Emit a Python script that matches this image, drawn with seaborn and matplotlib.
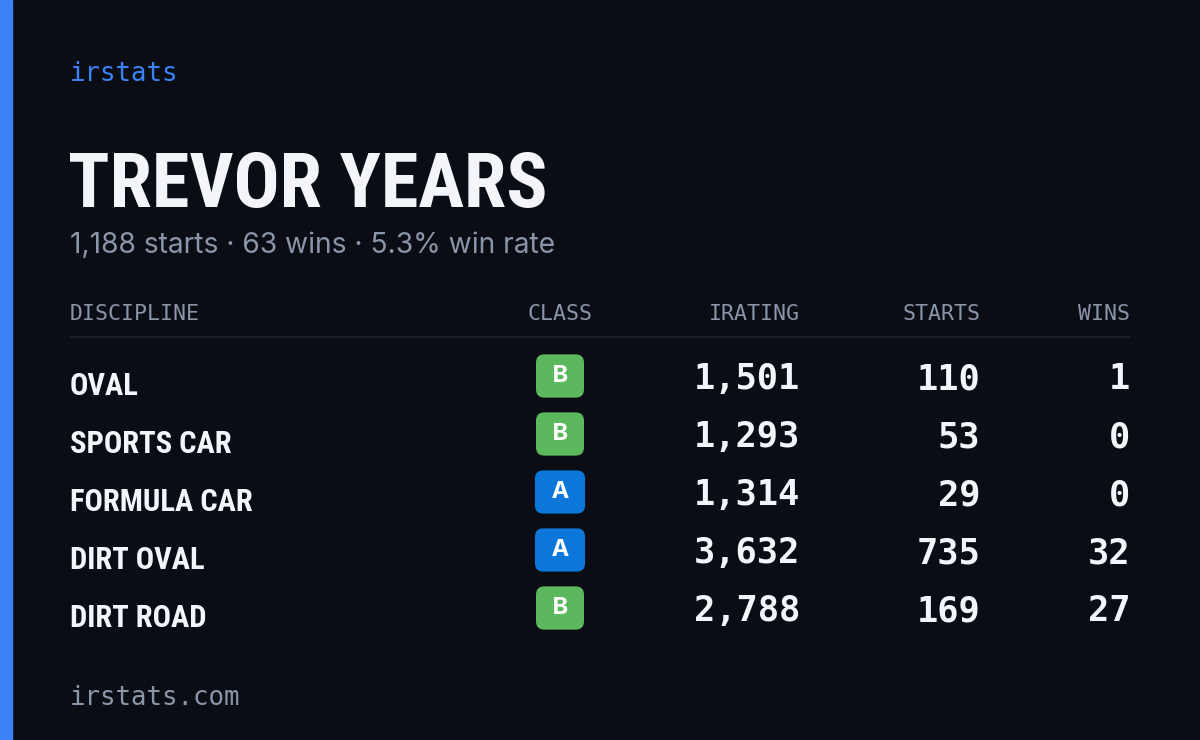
import matplotlib
matplotlib.use("Agg")
import matplotlib.pyplot as plt
import seaborn as sns
import pandas as pd
from matplotlib import font_manager as fm

disciplines = ["OVAL", "SPORTS CAR", "FORMULA CAR", "DIRT OVAL", "DIRT ROAD"]
classes = ["B", "B", "A", "A", "B"]
iratings = [1501, 1293, 1314, 3632, 2788]
starts = [110, 53, 29, 735, 169]
wins = [1, 0, 0, 32, 27]
headers = ["DISCIPLINE", "CLASS", "IRATING", "STARTS", "WINS"]
name = "TREVOR YEARS"
subtitle = "1,188 starts · 63 wins · 5.3% win rate"

sns.set_theme(style="white")
BG = "#0a0d14"
fig = plt.figure(figsize=(12, 7.4), dpi=100, facecolor=BG)
ax = fig.add_axes([0, 0, 1, 1])
ax.set_facecolor(BG)
ax.set_xlim(0, 1200); ax.set_ylim(740, 0); ax.axis("off")

names = {f.name for f in fm.fontManager.ttflist}
cond_cands = ["Roboto Condensed", "DejaVu Sans Condensed", "Liberation Sans Narrow",
              "Open Sans Condensed", "Noto Sans Condensed"]
cond_font = next((c for c in cond_cands if c in names), "DejaVu Sans")
narrow = cond_font != "DejaVu Sans"

ax.axvspan(0, 12, color="#3b82f6")
mono = "DejaVu Sans Mono"
ax.text(70, 74, "irstats", color="#3b82f6", fontsize=18.5, family=mono, va="center")
ax.text(68, 186, name, color="#f3f5fa", fontsize=55 if narrow else 44, family=cond_font,
        fontstretch="condensed", weight="bold", va="center")
ax.text(70, 246, subtitle, color="#8b95a8", fontsize=20.3, family="Inter", va="center")

hx = [70, 560, 800, 980, 1130]
ha = ["left", "center", "right", "right", "right"]
for h, x, a in zip(headers, hx, ha):
    ax.text(x, 314, h, color="#8b95a8", fontsize=15.5, family=mono, ha=a, va="center")
ax.plot([70, 1130], [337, 337], color="#1d2230", lw=1.2)

df = pd.DataFrame({"d": disciplines, "c": classes, "ir": iratings, "s": starts, "w": wins})
df["y"] = [380 + 58 * i for i in range(len(df))]
colors = {"A": "#0c77d8", "B": "#5cb85c"}
for _, r in df.iterrows():
    ax.text(70, r.y + 6, r.d, color="#f3f5fa", fontsize=22 if narrow else 19, family=cond_font,
            fontstretch="condensed", weight="bold", va="center")
    ax.text(560, r.y - 4, f" {r.c} ", color="white", fontsize=17, weight="bold", family="Inter",
            ha="center", va="center",
            bbox=dict(boxstyle="round,pad=0.45,rounding_size=0.35", fc=colors[r.c], ec="none"))
    for v, x in [(f"{r.ir:,}", 800), (f"{r.s:,}", 980), (f"{r.w:,}", 1130)]:
        ax.text(x, r.y - 1, v, color="#f3f5fa", fontsize=25.5, family=mono, weight="bold",
                ha="right", va="center")

ax.text(70, 698, "irstats.com", color="#8b95a8", fontsize=18.5, family=mono, va="center")
fig.savefig("out.png", dpi=100, facecolor=BG)
